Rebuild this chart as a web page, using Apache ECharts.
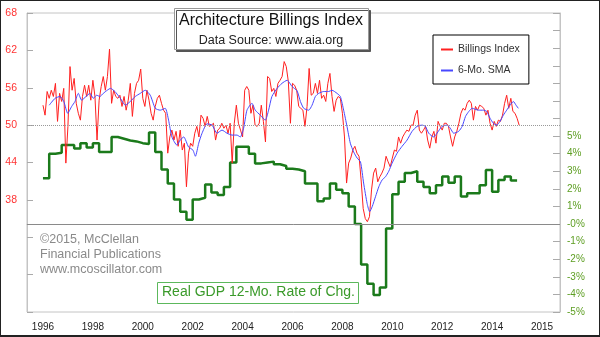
<!DOCTYPE html>
<html>
<head>
<meta charset="utf-8">
<script src="https://cdn.jsdelivr.net/npm/echarts@6/dist/echarts.min.js"></script>
<style>
  body { margin: 0; background: #fff; }
  #chart { position: absolute; left: 0; top: 0; width: 600px; height: 337px; }
  #frame { position: absolute; left: 0; top: 0; width: 600px; height: 337px; box-sizing: border-box;
           border: 1px solid #222; border-bottom-width: 2px; pointer-events: none; }
</style>
</head>
<body>
<div id="chart"></div>
<div id="frame"></div>
<script>
// monthly billings index, Jan 1996 onwards
const startYear = 1996;
const billings = [
  53.2, 51.6, 55.4, 54.3, 55.6, 54.6, 56.7, 50.6, 55.1, 53.8, 55.9, 43.9,
  49.8, 59.4, 55.6, 57.5, 53.5, 51.9, 50.8, 54.6, 56.4, 54.6, 56.4, 54.0,
  57.2, 54.6, 47.6, 54.0, 56.2, 57.8, 55.6, 57.8, 62.2, 53.5, 55.6, 54.6,
  54.3, 54.8, 53.0, 54.6, 52.4, 54.0, 56.7, 51.4, 55.1, 56.7, 57.2, 59.0,
  54.3, 53.0, 55.6, 54.0, 51.9, 50.8, 53.0, 54.3, 54.8, 53.5, 52.4, 51.9,
  45.5, 48.1, 49.2, 47.6, 49.0, 46.6, 49.2, 46.0, 47.1, 40.1, 45.5, 47.1,
  46.6, 48.7, 49.8, 48.1, 51.6, 51.1, 49.8, 51.4, 49.8, 50.0, 50.3, 47.6,
  49.2, 49.5, 50.3, 49.5, 50.0, 48.7, 50.3, 43.9, 50.3, 53.2, 50.3, 49.2,
  48.1, 55.6, 56.2, 55.6, 51.9, 53.2, 50.0, 49.8, 50.3, 53.2, 50.6, 47.3,
  57.8, 57.5, 55.4, 55.9, 54.6, 56.7, 57.2, 57.8, 60.2, 59.4, 57.0, 50.3,
  56.7, 56.4, 55.6, 53.0, 52.7, 52.4, 49.8, 53.0, 59.1, 54.8, 55.1, 56.7,
  55.1, 57.2, 54.3, 54.8, 53.8, 56.7, 58.3, 54.6, 52.2, 54.0, 54.6, 54.3,
  51.9, 48.1, 40.7, 43.9, 44.7, 46.0, 46.6, 45.5, 45.0, 41.2, 36.6, 35.0,
  34.5, 35.3, 39.6, 42.3, 43.1, 40.9, 41.7, 42.3, 43.1, 45.0, 44.1, 43.3,
  44.7, 46.0, 45.8, 48.1, 47.1, 48.1, 48.7, 49.2, 49.0, 50.0, 50.0, 51.6,
  52.4, 49.2, 48.7, 49.2, 49.8, 47.6, 46.3, 48.1, 49.0, 47.1, 50.6, 49.8,
  49.2, 50.3, 50.3, 49.8, 48.1, 46.6, 48.1, 49.0, 50.3, 51.9, 52.7, 52.4,
  53.5, 54.0, 53.5, 50.8, 53.0, 52.4, 53.2, 53.0, 52.7, 51.6, 52.4, 50.3,
  49.2, 50.6, 49.8, 50.8, 50.6, 51.6, 53.5, 54.8, 52.7, 54.3, 52.2, 51.9,
  51.1, 50.0
];

// 6-month SMA (months since Jan 1996 / value)
const smaMonth = [
  3, 5.8, 8.2, 10, 11.9, 13.8, 15.4, 17, 18.6, 20.7, 22.6, 24.2, 25.8, 27.4, 29, 30.9, 32.5, 34.6,
  35.6, 37.2, 39.6, 42, 44.4, 46.8, 49.2, 51.6, 54, 56.4, 58.8, 60.4, 62, 64.4, 66, 67.7, 70, 72.1,
  73.3, 74.9, 76.5, 78.9, 81.3, 83.7, 86.1, 88.5, 90.9, 93.3, 94.9, 96.5, 98.1, 100.5, 102.1, 104.5,
  106.9, 108.5, 110.1, 112.6, 114.9, 117.4, 119.8, 122.2, 123.8, 125.4, 127.8, 129.4, 131, 132.6,
  135, 137.4, 139, 141.4, 143, 144.6, 146.2, 147.8, 149.4, 151.1, 152.7, 154.2, 155.9, 157.1, 158.3,
  159.9, 161.5, 163.1, 164.7, 166.3, 167.9, 170.3, 172.7, 175.1, 177.5, 179.9, 182.3, 183.9, 185.5,
  187.9, 189.5, 191.9, 194.3, 195.9, 197.5, 199.9, 201.6, 203.2, 204.8, 206.4, 209.4, 211.8, 213.4,
  215, 216.6, 218.2, 219.8, 221.4, 223, 224.6, 226.2, 227.5, 228.6
];
const smaValue = [
  53.2, 54.3, 54.6, 53.8, 51.9, 53.0, 53.8, 55.1, 54.0, 54.6, 55.1, 54.3, 54.8, 54.6, 55.1, 55.6, 55.9, 55.4,
  55.0, 54.3, 53.2, 53.8, 54.6, 55.1, 55.6, 54.8, 52.7, 52.4, 52.7, 50.8, 48.1, 46.8, 47.6, 48.1, 46.5, 46.0,
  45.0, 47.1, 48.7, 50.2, 50.0, 48.7, 49.2, 48.7, 48.4, 48.4, 48.1, 49.5, 52.4, 53.5, 52.4, 51.6,
  50.8, 52.4, 54.6, 55.9, 56.7, 57.2, 56.2, 55.5, 53.8, 52.7, 52.4, 53.2, 54.6, 55.1,
  55.4, 55.4, 55.6, 55.1, 54.6, 52.4, 49.8, 47.1, 45.7, 44.7, 44.1, 40.7, 37.4, 36.1, 36.9,
  38.5, 40.1, 41.2, 41.7, 42.6, 43.9, 45.5, 46.6, 47.6, 49.0, 49.8, 50.0, 49.8, 48.7,
  48.1, 48.7, 49.8, 50.0, 49.5, 48.7, 49.0, 49.8, 51.4, 52.2, 52.7, 52.4, 52.4, 52.2,
  51.1, 50.3, 50.0, 50.6, 51.6, 52.4, 53.2, 53.8, 53.2, 52.7
];

// real GDP 12-month rate of change (%), quarterly from 1996 Q1
const gdpQuarterly = [
  2.6, 4.0, 4.05, 4.5, 4.5, 4.3, 4.6, 4.35,
  4.6, 4.1, 4.1, 4.95, 4.85, 4.75, 4.7, 4.6,
  4.55, 5.2, 4.1, 3.1, 2.3, 1.4, 0.7, 0.25,
  1.4, 1.5, 2.25, 1.8, 1.65, 2.1, 3.5, 4.4,
  4.4, 4.0, 3.45, 3.5, 3.55, 3.4, 3.3, 3.15,
  3.1, 3.0, 2.3, 2.3, 1.3, 1.46, 2.3, 1.95,
  1.75, 1.0, 0.0, -2.3, -3.4, -4.03, -3.6, -0.25,
  1.7, 2.4, 2.9, 3.0, 2.4, 2.1, 1.75, 2.2,
  2.7, 2.35, 2.7, 1.56, 1.75, 1.75, 2.2, 3.07,
  1.84, 2.5, 2.7, 2.47
];

const xLabelYears = [1996, 1998, 2000, 2002, 2004, 2006, 2008, 2010, 2012, 2014, 2016];
const xLabelText  = ['1996', '1998', '2000', '2002', '2004', '2006', '2008', '2010', '2012', '2014', '2015'];
const leftTicks   = [20, 26, 32, 38, 44, 50, 56, 62, 68];
const leftLabels  = [38, 44, 50, 56, 62, 68];
const rightTicks  = [-5, -4, -3, -2, -1, 0, 1, 2, 3, 4, 5, 6, 7, 8, 9, 10, 11, 12];
const rightLabels = [-5, -4, -3, -2, -1, 0, 1, 2, 3, 4, 5];

const FONT = '"Liberation Sans", Arial, sans-serif';

const billingsData = billings.map((v, i) => [startYear + i / 12, v]);
const smaData = smaValue.map((v, i) => [startYear + smaMonth[i] / 12, v]);
const gdpData = gdpQuarterly.map((v, i) => [startYear + i / 4, v]);
gdpData.push([startYear + gdpQuarterly.length / 4, gdpQuarterly[gdpQuarterly.length - 1]]);

const chart = echarts.init(document.getElementById('chart'));
chart.setOption({
  backgroundColor: '#fff',
  animation: false,
  textStyle: { fontFamily: FONT },
  grid: { left: 27, right: 40, top: 13, bottom: 25, show: true, borderColor: '#c4c4c4', borderWidth: 1 },
  legend: {
    orient: 'vertical', left: 433, top: 35,
    padding: [9, 9, 8, 8], itemGap: 10, itemWidth: 12, itemHeight: 2,
    borderColor: '#000', borderWidth: 1, backgroundColor: '#fff',
    textStyle: { fontSize: 10.5, color: '#333', fontFamily: FONT },
    data: [
      { name: 'Billings Index', icon: 'rect' },
      { name: '6-Mo. SMA', icon: 'rect' }
    ]
  },
  xAxis: {
    type: 'value', min: 1995.36, max: 2016.72,
    axisLine: { lineStyle: { color: '#c4c4c4' } },
    axisTick: { show: false },
    splitLine: { show: false },
    axisLabel: {
      customValues: xLabelYears, margin: 10, fontSize: 10, color: '#222',
      formatter: v => xLabelText[xLabelYears.indexOf(v)]
    }
  },
  yAxis: [
    {
      type: 'value', position: 'left', min: 20, max: 68,
      axisLine: { show: true, lineStyle: { color: '#c4c4c4' } },
      axisTick: { show: true, inside: true, length: 6, customValues: leftTicks, lineStyle: { color: '#aaa' } },
      splitLine: { show: false },
      axisLabel: { customValues: leftLabels, margin: 10, fontSize: 10.5, color: '#ff3333' }
    },
    {
      type: 'value', position: 'right', min: -5, max: 12,
      axisLine: { show: true, lineStyle: { color: '#c4c4c4' } },
      axisTick: { show: true, inside: true, length: 7, customValues: rightTicks, lineStyle: { color: '#aaa' } },
      splitLine: { show: false },
      axisLabel: {
        customValues: rightLabels, margin: 7, fontSize: 10, color: '#5d9e22',
        formatter: v => (v === 0 ? '-0' : v) + '%'
      }
    }
  ],
  series: [
    {
      name: 'GDP', type: 'line', yAxisIndex: 1, step: 'end', data: gdpData,
      symbol: 'none', lineStyle: { color: '#1b7a1b', width: 2.5 }, itemStyle: { color: '#1b7a1b' },
      markLine: {
        silent: true, symbol: 'none', label: { show: false },
        lineStyle: { color: '#8a8a8a', type: 'solid', width: 1 },
        data: [{ yAxis: 0 }]
      }
    },
    {
      name: 'Billings Index', type: 'line', yAxisIndex: 0, data: billingsData,
      symbol: 'none', lineStyle: { color: '#ff2020', width: 1 }, itemStyle: { color: '#ff2020' },
      markLine: {
        silent: true, symbol: 'none', label: { show: false },
        lineStyle: { color: '#999', type: 'dotted', width: 1 },
        data: [{ yAxis: 50 }]
      }
    },
    {
      name: '6-Mo. SMA', type: 'line', yAxisIndex: 0, data: smaData, smooth: 0.2,
      symbol: 'none', lineStyle: { color: '#4848ff', width: 1 }, itemStyle: { color: '#4848ff' }
    }
  ],
  graphic: [
    {
      type: 'rect', left: 174, top: 8, z: 100,
      shape: { width: 194, height: 41 },
      style: { fill: '#fff', stroke: '#999', lineWidth: 1, shadowColor: '#555', shadowOffsetX: 2, shadowOffsetY: 2 }
    },
    {
      type: 'text', x: 271, y: 13, z: 101,
      style: { text: 'Architecture Billings Index', font: '16px ' + FONT, fill: '#111', textAlign: 'center' }
    },
    {
      type: 'text', x: 271, y: 34, z: 101,
      style: { text: 'Data Source: www.aia.org', font: '12.5px ' + FONT, fill: '#222', textAlign: 'center' }
    },
    {
      type: 'text', left: 40, top: 232, z: 100,
      style: { text: '\u00a92015, McClellan\nFinancial Publications\nwww.mcoscillator.com', font: '12.5px ' + FONT, fill: '#8a8a8a', lineHeight: 15 }
    },
    {
      type: 'rect', left: 157, top: 282, z: 100,
      shape: { width: 201, height: 21 },
      style: { fill: '#fff', stroke: '#5cb85c', lineWidth: 1 }
    },
    {
      type: 'text', left: 162, top: 285, z: 101,
      style: { text: 'Real GDP 12-Mo. Rate of Chg.', font: '14px ' + FONT, fill: '#3a9a2a' }
    }
  ]
});
</script>
</body>
</html>
